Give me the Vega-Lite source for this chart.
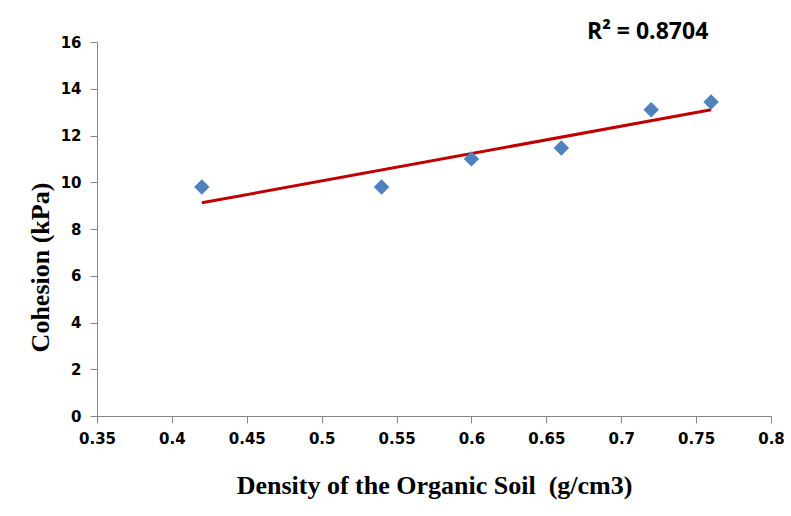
{
  "$schema": "https://vega.github.io/schema/vega-lite/v6.json",
  "autosize": "none",
  "width": 674,
  "height": 374,
  "padding": {"left": 97, "top": 42, "right": 20, "bottom": 100},
  "background": "white",
  "config": {
    "view": {"stroke": null},
    "axis": {
      "grid": false,
      "domainColor": "#868686",
      "tickColor": "#868686",
      "tickSize": 7,
      "labelFont": "DejaVu Sans",
      "labelFontWeight": "bold",
      "labelFontSize": 15,
      "labelColor": "#000000",
      "titleFont": "Liberation Serif",
      "titleFontWeight": "bold",
      "titleFontSize": 26,
      "titleColor": "#000000"
    }
  },
  "title": {
    "text": "R² = 0.8704",
    "anchor": "end",
    "dx": -76,
    "offset": -9,
    "font": "Open Sans",
    "fontWeight": "bold",
    "fontSize": 23,
    "color": "#000000"
  },
  "datasets": {
    "points": [
      {"density": 0.42, "cohesion": 9.8},
      {"density": 0.54, "cohesion": 9.8},
      {"density": 0.6, "cohesion": 11.0},
      {"density": 0.66, "cohesion": 11.47},
      {"density": 0.72, "cohesion": 13.1},
      {"density": 0.76, "cohesion": 13.43}
    ],
    "trend": [
      {"density": 0.42, "cohesion": 9.12},
      {"density": 0.76, "cohesion": 13.1}
    ]
  },
  "layer": [
    {
      "data": {"name": "trend"},
      "mark": {"type": "line", "color": "#C00000", "strokeWidth": 3},
      "encoding": {
        "x": {
          "field": "density",
          "type": "quantitative",
          "scale": {"domain": [0.35, 0.8], "nice": false, "zero": false},
          "axis": {
            "values": [0.35, 0.4, 0.45, 0.5, 0.55, 0.6, 0.65, 0.7, 0.75, 0.8],
            "labelExpr": "datum.value == 0.5 ? '0.5' : datum.value == 0.4 ? '0.4' : datum.value == 0.6 ? '0.6' : datum.value == 0.7 ? '0.7' : datum.value == 0.8 ? '0.8' : format(datum.value, '.2f')",
            "labelPadding": 8,
            "labelFlush": false,
            "labelOverlap": false,
            "title": "Density of the Organic Soil\u00a0 (g/cm3)",
            "titlePadding": 26
          }
        },
        "y": {
          "field": "cohesion",
          "type": "quantitative",
          "scale": {"domain": [0, 16], "nice": false},
          "axis": {
            "values": [0, 2, 4, 6, 8, 10, 12, 14, 16],
            "labelPadding": 9,
            "title": "Cohesion (kPa)",
            "titleAngle": -90,
            "titleX": -57,
            "titleY": 225,
            "titleAlign": "center",
            "titleBaseline": "middle"
          }
        }
      }
    },
    {
      "data": {"name": "points"},
      "mark": {"type": "point", "shape": "diamond", "filled": true, "color": "#4F81BD", "opacity": 1, "size": 240},
      "encoding": {
        "x": {"field": "density", "type": "quantitative"},
        "y": {"field": "cohesion", "type": "quantitative"}
      }
    }
  ]
}
